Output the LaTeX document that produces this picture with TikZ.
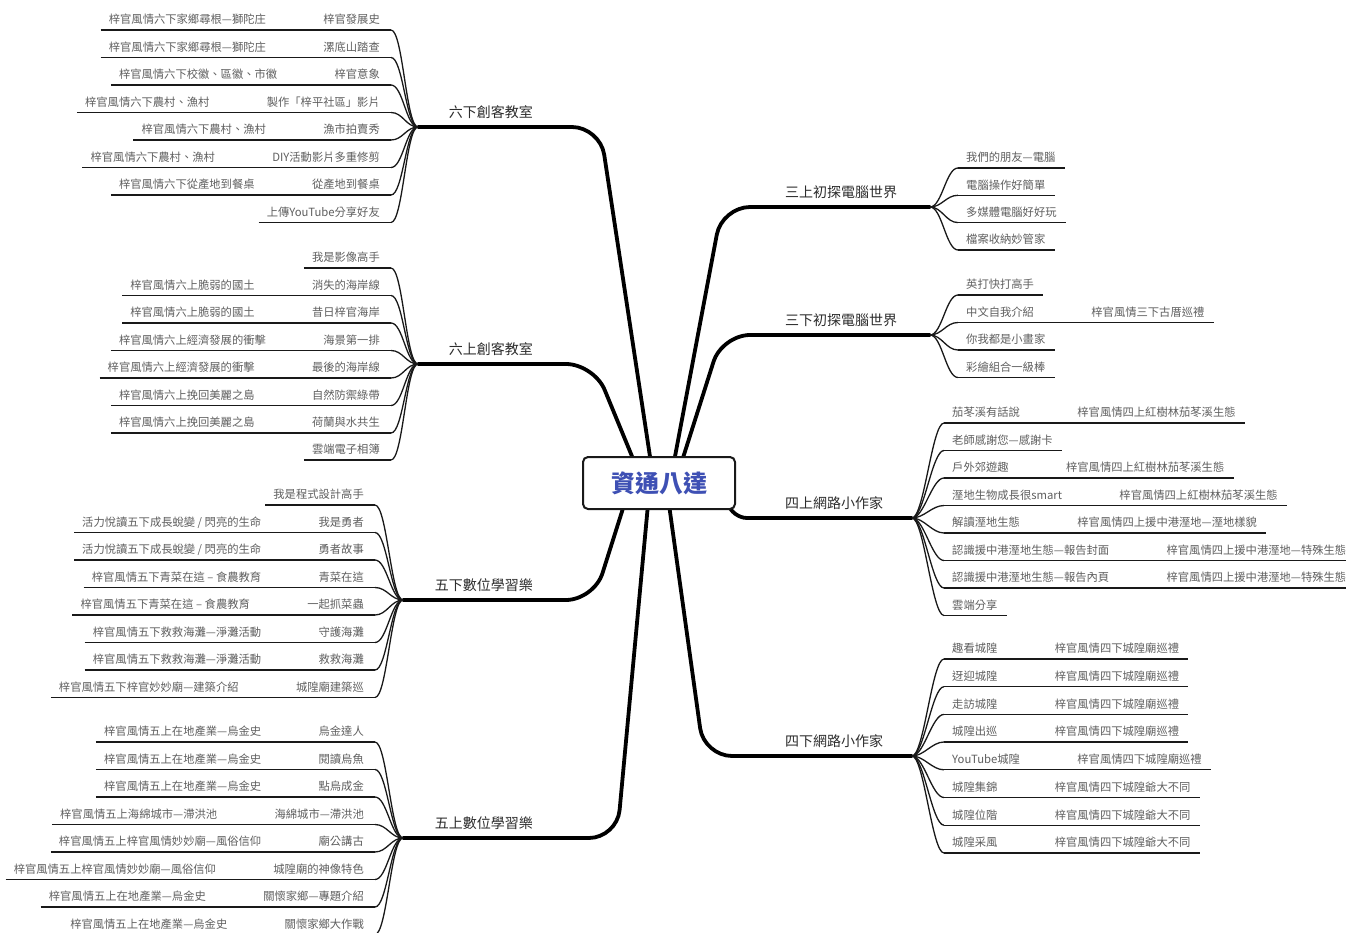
\documentclass[tikz,border=0pt]{standalone}
\usepackage{fontspec}
\newfontfamily\cjk{Noto Sans CJK TC}
\usetikzlibrary{backgrounds}
\definecolor{leaftext}{RGB}{95,95,95}
\definecolor{maintext}{RGB}{45,45,45}
\definecolor{rootblue}{RGB}{62,80,180}
\definecolor{linec}{RGB}{25,25,25}
\tikzset{
 leaf/.style={font=\cjk\fontsize{11.3}{13}\selectfont, text=leaftext, inner xsep=0pt, inner ysep=3.5pt, text height=8.5pt, text depth=2.5pt},
 leafline/.style={draw=linec, line width=1.3pt},
 topic/.style={font=\cjk\fontsize{14}{16}\selectfont, text=maintext, inner xsep=0pt, inner ysep=7pt, text height=11pt, text depth=2pt},
 branch/.style={draw=black, line width=3.8pt, rounded corners=28pt, line cap=round},
 rootbox/.style={draw=linec, line width=2pt, fill=white, rounded corners=5pt, minimum width=152pt, minimum height=52pt, font=\cjk\bfseries\fontsize{24}{28}\selectfont, text=rootblue}
}
\newcommand{\LeafL}[6]{%
  \node[leaf, anchor=south east] (#1) at (#2,#3) {#5};
  \if\relax\detokenize{#6}\relax
    \draw[leafline] ([xshift=-8pt]#1.south west) -- ([xshift=11pt]#1.south east);
  \else
    \node[leaf, anchor=south east] (#1g) at ([xshift=-57pt]#1.south west) {#6};
    \draw[leafline] ([xshift=-8pt]#1g.south west) -- ([xshift=11pt]#1.south east);
  \fi
  \draw[leafline] ([xshift=11pt]#1.south east) .. controls +(12,0) and +(-12,0) .. (#4);
}
\newcommand{\LeafR}[6]{%
  \node[leaf, anchor=south west] (#1) at (#2,#3) {#5};
  \if\relax\detokenize{#6}\relax
    \draw[leafline] ([xshift=-8pt]#1.south west) -- ([xshift=9pt]#1.south east);
  \else
    \node[leaf, anchor=south west] (#1g) at ([xshift=57pt]#1.south east) {#6};
    \draw[leafline] ([xshift=-8pt]#1.south west) -- ([xshift=9pt]#1g.south east);
  \fi
  \draw[leafline] (#4) .. controls +(12,0) and +(-12,0) .. ([xshift=-8pt]#1.south west);
}
\begin{document}
\begin{tikzpicture}[x=1pt,y=-1pt]
\useasboundingbox (0,0) rectangle (1346,933);
\begin{scope}[on background layer]
\fill[white] (0,0) rectangle (1346,933);
\end{scope}

% root
\node[rootbox] (root) at (659,483) {資通八達};

% fan points
\coordinate (f1) at (418,127);
\coordinate (f2) at (418,364);
\coordinate (f3) at (403,600);
\coordinate (f4) at (403,838);
\coordinate (f5) at (930,207);
\coordinate (f6) at (930,335);
\coordinate (f7) at (912,518);
\coordinate (f8) at (912,756);

% topics
\node[topic, anchor=south east] (t1) at (533,127) {六下創客教室};
\node[topic, anchor=south east] (t2) at (533,364) {六上創客教室};
\node[topic, anchor=south east] (t3) at (533,600) {五下數位學習樂};
\node[topic, anchor=south east] (t4) at (533,838) {五上數位學習樂};
\node[topic, anchor=south west] (t5) at (785,207) {三上初探電腦世界};
\node[topic, anchor=south west] (t6) at (785,335) {三下初探電腦世界};
\node[topic, anchor=south west] (t7) at (785,518) {四上網路小作家};
\node[topic, anchor=south west] (t8) at (785,756) {四下網路小作家};

% main branches
\begin{scope}[on background layer]
\draw[branch] ([xshift=-5pt]root.center) -- (600,127) -- (f1);
\draw[branch] ([xshift=-16pt]root.center) -- (594,364) -- (f2);
\draw[branch] ([xshift=-28pt]root.center) -- (594,600) -- (f3);
\draw[branch] ([xshift=-9pt]root.center) -- (617,838) -- (f4);
\draw[branch] ([xshift=11pt]root.center) -- (722,207) -- (f5);
\draw[branch] ([xshift=16pt]root.center) -- (722,335) -- (f6);
\draw[branch, rounded corners=15pt] ([xshift=63pt]root.center) -- (732,518) -- (f7);
\draw[branch] ([xshift=7pt]root.center) -- (704,756) -- (f8);
\end{scope}

% 六下創客教室
\LeafL{a1}{380}{30}{f1}{梓官發展史}{梓官風情六下家鄉尋根—獅陀庄}
\LeafL{a2}{380}{57.5}{f1}{漯底山踏查}{梓官風情六下家鄉尋根—獅陀庄}
\LeafL{a3}{380}{85}{f1}{梓官意象}{梓官風情六下校徽、區徽、市徽}
\LeafL{a4}{380}{112.5}{f1}{製作「梓平社區」影片}{梓官風情六下農村、漁村}
\LeafL{a5}{380}{140}{f1}{漁市拍賣秀}{梓官風情六下農村、漁村}
\LeafL{a6}{380}{167.5}{f1}{DIY活動影片多重修剪}{梓官風情六下農村、漁村}
\LeafL{a7}{380}{195}{f1}{從產地到餐桌}{梓官風情六下從產地到餐桌}
\LeafL{a8}{380}{222.5}{f1}{上傳YouTube分享好友}{}

% 六上創客教室
\LeafL{b1}{380}{268}{f2}{我是影像高手}{}
\LeafL{b2}{380}{295.5}{f2}{消失的海岸線}{梓官風情六上脆弱的國土}
\LeafL{b3}{380}{323}{f2}{昔日梓官海岸}{梓官風情六上脆弱的國土}
\LeafL{b4}{380}{350.5}{f2}{海景第一排}{梓官風情六上經濟發展的衝擊}
\LeafL{b5}{380}{378}{f2}{最後的海岸線}{梓官風情六上經濟發展的衝擊}
\LeafL{b6}{380}{405.5}{f2}{自然防禦綠帶}{梓官風情六上挽回美麗之島}
\LeafL{b7}{380}{433}{f2}{荷蘭與水共生}{梓官風情六上挽回美麗之島}
\LeafL{b8}{380}{460}{f2}{雲端電子相簿}{}

% 五下數位學習樂
\LeafL{c1}{364}{505}{f3}{我是程式設計高手}{}
\LeafL{c2}{364}{532.5}{f3}{我是勇者}{活力悅讀五下成長蛻變 / 閃亮的生命}
\LeafL{c3}{364}{560}{f3}{勇者故事}{活力悅讀五下成長蛻變 / 閃亮的生命}
\LeafL{c4}{364}{587.5}{f3}{青菜在這}{梓官風情五下青菜在這 – 食農教育}
\LeafL{c5}{364}{615}{f3}{一起抓菜蟲}{梓官風情五下青菜在這 – 食農教育}
\LeafL{c6}{364}{642.5}{f3}{守護海灘}{梓官風情五下救救海灘—淨灘活動}
\LeafL{c7}{364}{670}{f3}{救救海灘}{梓官風情五下救救海灘—淨灘活動}
\LeafL{c8}{364}{697.5}{f3}{城隍廟建築巡}{梓官風情五下梓官妙妙廟—建築介紹}

% 五上數位學習樂
\LeafL{d1}{364}{742}{f4}{烏金達人}{梓官風情五上在地產業—烏金史}
\LeafL{d2}{364}{769.5}{f4}{閱讀烏魚}{梓官風情五上在地產業—烏金史}
\LeafL{d3}{364}{797}{f4}{點烏成金}{梓官風情五上在地產業—烏金史}
\LeafL{d4}{364}{824.5}{f4}{海綿城市—滯洪池}{梓官風情五上海綿城市—滯洪池}
\LeafL{d5}{364}{852}{f4}{廟公講古}{梓官風情五上梓官風情妙妙廟—風俗信仰}
\LeafL{d6}{364}{879.5}{f4}{城隍廟的神像特色}{梓官風情五上梓官風情妙妙廟—風俗信仰}
\LeafL{d7}{364}{907}{f4}{關懷家鄉—專題介紹}{梓官風情五上在地產業—烏金史}
\LeafL{d8}{364}{934.5}{f4}{關懷家鄉大作戰}{梓官風情五上在地產業—烏金史}

% 三上初探電腦世界
\LeafR{e1}{966}{168}{f5}{我們的朋友—電腦}{}
\LeafR{e2}{966}{195.3}{f5}{電腦操作好簡單}{}
\LeafR{e3}{966}{222.6}{f5}{多媒體電腦好好玩}{}
\LeafR{e4}{966}{250}{f5}{檔案收納妙管家}{}

% 三下初探電腦世界
\LeafR{g1}{966}{295}{f6}{英打快打高手}{}
\LeafR{g2}{966}{322.5}{f6}{中文自我介紹}{梓官風情三下古厝巡禮}
\LeafR{g3}{966}{350}{f6}{你我都是小畫家}{}
\LeafR{g4}{966}{377.5}{f6}{彩繪組合一級棒}{}

% 四上網路小作家
\LeafR{h1}{952}{423}{f7}{茄苳溪有話說}{梓官風情四上紅樹林茄苳溪生態}
\LeafR{h2}{952}{450.5}{f7}{老師感謝您—感謝卡}{}
\LeafR{h3}{952}{478}{f7}{戶外郊遊趣}{梓官風情四上紅樹林茄苳溪生態}
\LeafR{h4}{952}{505.5}{f7}{溼地生物成長很smart}{梓官風情四上紅樹林茄苳溪生態}
\LeafR{h5}{952}{533}{f7}{解讀溼地生態}{梓官風情四上援中港溼地—溼地樣貌}
\LeafR{h6}{952}{560.5}{f7}{認識援中港溼地生態—報告封面}{梓官風情四上援中港溼地—特殊生態}
\LeafR{h7}{952}{588}{f7}{認識援中港溼地生態—報告內頁}{梓官風情四上援中港溼地—特殊生態}
\LeafR{h8}{952}{615.5}{f7}{雲端分享}{}

% 四下網路小作家
\LeafR{k1}{952}{659}{f8}{趣看城隍}{梓官風情四下城隍廟巡禮}
\LeafR{k2}{952}{686.7}{f8}{迓迎城隍}{梓官風情四下城隍廟巡禮}
\LeafR{k3}{952}{714.4}{f8}{走訪城隍}{梓官風情四下城隍廟巡禮}
\LeafR{k4}{952}{742}{f8}{城隍出巡}{梓官風情四下城隍廟巡禮}
\LeafR{k5}{952}{769.8}{f8}{YouTube城隍}{梓官風情四下城隍廟巡禮}
\LeafR{k6}{952}{797.5}{f8}{城隍集錦}{梓官風情四下城隍爺大不同}
\LeafR{k7}{952}{825.2}{f8}{城隍位階}{梓官風情四下城隍爺大不同}
\LeafR{k8}{952}{853}{f8}{城隍采風}{梓官風情四下城隍爺大不同}
\end{tikzpicture}
\end{document}
